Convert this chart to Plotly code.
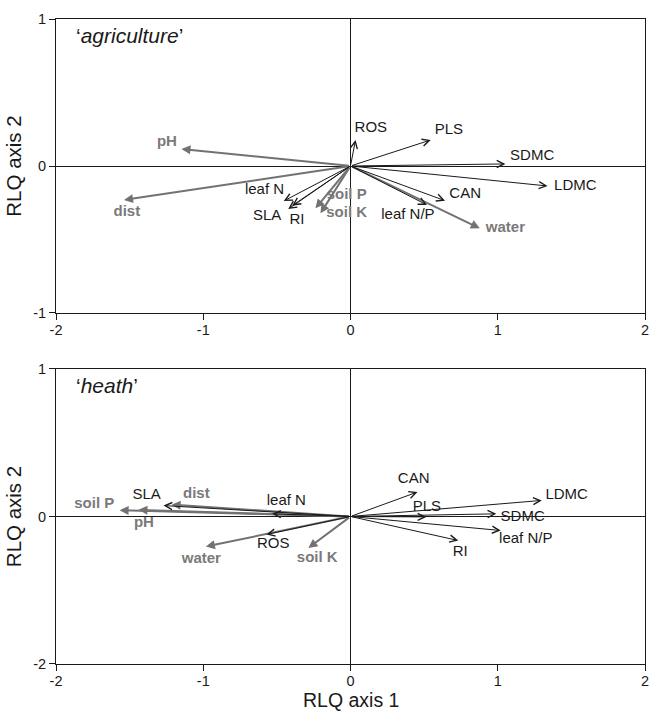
import plotly.graph_objects as go

# ---------------- data ----------------
# top panel: 'agriculture'
agr_trait_names = ["ROS", "PLS", "SDMC", "LDMC", "CAN", "leaf N/P", "leaf N", "SLA", "RI"]
agr_trait_x = [0.034, 0.545, 1.052, 1.338, 0.642, 0.519, -0.453, -0.423, -0.396]
agr_trait_y = [0.177, 0.177, 0.014, -0.136, -0.236, -0.265, -0.238, -0.293, -0.270]
agr_env_names = ["pH", "dist", "soil P", "soil K", "water"]
agr_env_x = [-1.148, -1.538, -0.238, -0.204, 0.878]
agr_env_y = [0.116, -0.231, -0.288, -0.322, -0.424]

# bottom panel: 'heath'
hea_trait_names = ["CAN", "LDMC", "PLS", "SDMC", "leaf N/P", "RI", "ROS", "leaf N", "SLA"]
hea_trait_x = [0.455, 1.299, 0.515, 0.990, 1.020, 0.732, -0.571, -0.532, -1.270]
hea_trait_y = [0.166, 0.109, -0.003, 0.018, -0.095, -0.163, -0.122, 0.018, 0.074]
hea_env_names = ["dist", "pH", "soil P", "water", "soil K"]
hea_env_x = [-1.215, -1.440, -1.568, -0.982, -0.286]
hea_env_y = [0.080, 0.045, 0.043, -0.204, -0.213]

x_ticks = [-2, -1, 0, 1, 2]
y_ticks_top = [-1, 0, 1]
y_ticklabels_top = ["-1", "0", "1"]
y_ticks_bot = [-1, 0, 1]
y_ticklabels_bot = ["-2", "0", "1"]

# ---------------- label placement (offsets from arrow tip, data units) ----------------
agr_trait_off = {"ROS": (0.104, 0.077), "PLS": (0.123, 0.063), "SDMC": (0.182, 0.049),
                 "LDMC": (0.189, 0.0), "CAN": (0.137, 0.046), "leaf N/P": (-0.129, -0.068),
                 "leaf N": (-0.131, 0.070), "SLA": (-0.143, -0.047), "RI": (0.032, -0.097)}
agr_env_off = {"pH": (-0.099, 0.043), "dist": (0.019, -0.086), "soil P": (0.212, 0.089),
               "soil K": (0.178, 0.001), "water": (0.174, 0.0)}
hea_trait_off = {"CAN": (-0.026, 0.083), "LDMC": (0.169, 0.038), "PLS": (0.004, 0.066),
                 "SDMC": (0.179, -0.023), "leaf N/P": (0.170, -0.061), "RI": (0.013, -0.080),
                 "ROS": (0.046, -0.068), "leaf N": (0.096, 0.084), "SLA": (-0.114, 0.073)}
hea_env_off = {"dist": (0.168, 0.070), "pH": (0.037, -0.090), "soil P": (-0.172, 0.039),
               "water": (-0.031, -0.089), "soil K": (0.060, -0.073)}

FONT = "Arial, Liberation Sans, Helvetica, sans-serif"
BLACK = "#1a1a1a"
GRAY = "#727272"
GRAY_TXT = "#7a7a7a"

fig = go.Figure()
annotations = []


def add_panel(xr, yr, tnames, tx, ty, toff, enames, ex, ey, eoff, title):
    # arrows: environmental (gray, filled heads)
    for n, x, y in zip(enames, ex, ey):
        annotations.append(dict(x=x, y=y, ax=0, ay=0, xref=xr, yref=yr, axref=xr, ayref=yr,
                                text="", showarrow=True, arrowhead=2, arrowsize=0.9,
                                arrowwidth=2, arrowcolor=GRAY, standoff=0))
    # arrows: traits (black, open heads)
    for n, x, y in zip(tnames, tx, ty):
        annotations.append(dict(x=x, y=y, ax=0, ay=0, xref=xr, yref=yr, axref=xr, ayref=yr,
                                text="", showarrow=True, arrowhead=5, arrowsize=1.4,
                                arrowwidth=1, arrowcolor=BLACK, standoff=0))
    # labels
    fig.add_trace(go.Scatter(
        x=[x + toff[n][0] for n, x in zip(tnames, tx)],
        y=[y + toff[n][1] for n, y in zip(tnames, ty)],
        text=tnames, mode="text", textposition="middle center",
        textfont=dict(family=FONT, size=15, color=BLACK),
        xaxis=xr, yaxis=yr, hoverinfo="skip", showlegend=False))
    fig.add_trace(go.Scatter(
        x=[x + eoff[n][0] for n, x in zip(enames, ex)],
        y=[y + eoff[n][1] for n, y in zip(enames, ey)],
        text=["<b>%s</b>" % n for n in enames], mode="text", textposition="middle center",
        textfont=dict(family=FONT, size=15, color=GRAY_TXT),
        xaxis=xr, yaxis=yr, hoverinfo="skip", showlegend=False))
    annotations.append(dict(x=-1.88, y=0.885, xref=xr, yref=yr, xanchor="left", yanchor="middle",
                            text=title, showarrow=False,
                            font=dict(family=FONT, size=21, color=BLACK)))


add_panel("x", "y", agr_trait_names, agr_trait_x, agr_trait_y, agr_trait_off,
          agr_env_names, agr_env_x, agr_env_y, agr_env_off, "‘<i>agriculture</i>’")
add_panel("x2", "y2", hea_trait_names, hea_trait_x, hea_trait_y, hea_trait_off,
          hea_env_names, hea_env_x, hea_env_y, hea_env_off, "‘<i>heath</i>’")

# x-axis title for the bottom panel
annotations.append(dict(x=0.5, y=-0.0565, xref="paper", yref="paper", xanchor="center",
                        yanchor="middle", text="RLQ axis 1", showarrow=False, borderpad=0,
                        font=dict(family=FONT, size=19.5, color=BLACK)))

axis_common = dict(showgrid=False, zeroline=True, zerolinecolor=BLACK, zerolinewidth=1,
                   showline=True, mirror=True, linecolor=BLACK, linewidth=1,
                   ticks="outside", ticklen=6, tickcolor=BLACK, tickwidth=1,
                   automargin=False,
                   tickfont=dict(family=FONT, size=14.5, color=BLACK))

fig.update_layout(
    width=651, height=713,
    margin=dict(l=56, r=6, t=19, b=49),
    paper_bgcolor="white", plot_bgcolor="white",
    showlegend=False,
    annotations=annotations,
    xaxis=dict(axis_common, domain=[0, 1], range=[-2, 2], anchor="y",
               tickvals=x_ticks, ticktext=[str(v) for v in x_ticks], ticklabelstandoff=-2),
    yaxis=dict(axis_common, domain=[0.5442, 1], range=[-1, 1], anchor="x",
               tickvals=y_ticks_top, ticktext=y_ticklabels_top,
               title=dict(text="RLQ axis 2", font=dict(family=FONT, size=20.5, color=BLACK), standoff=6)),
    xaxis2=dict(axis_common, domain=[0, 1], range=[-2, 2], anchor="y2",
                tickvals=x_ticks, ticktext=[str(v) for v in x_ticks], ticklabelstandoff=-2),
    yaxis2=dict(axis_common, domain=[0, 0.4574], range=[-1, 1], anchor="x2",
                tickvals=y_ticks_bot, ticktext=y_ticklabels_bot,
                title=dict(text="RLQ axis 2", font=dict(family=FONT, size=20.5, color=BLACK), standoff=6)),
)

fig.write_html("out.html")
